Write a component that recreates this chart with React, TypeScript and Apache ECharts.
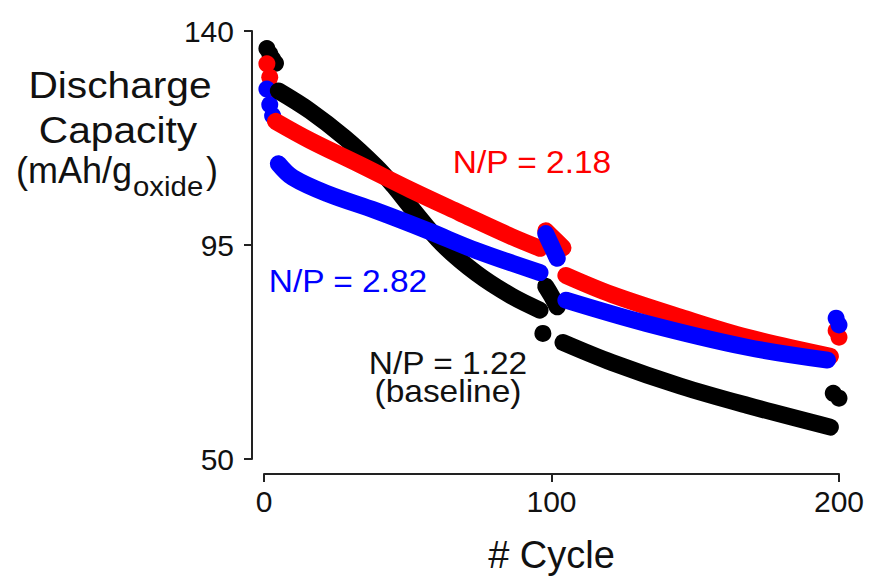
import React, { useEffect, useRef } from "react";
import * as echarts from "echarts";

// ---------- data (cycle, discharge capacity mAh/g_oxide) ----------
const xTicks = [0, 100, 200];
const yTicks = [50, 95, 140];

// N/P = 1.22 (baseline), black
const blackStart = [[1, 136.3], [2, 135.2], [3, 134.1], [4, 133.2]];
const blackEarly = [[5, 127.4], [16, 123.2], [28, 117.6], [39, 111.5], [45, 107.5], [51, 103.0], [62, 95.2], [74, 89.0], [86, 84.3], [96, 81.3]];
const blackDip = [[97, 76.4]];
const blackBump = [[98, 86.3], [100, 84.3], [102, 82.0]];
const blackLate = [[104, 74.5], [121, 70.3], [145, 65.3], [168, 61.3], [197, 56.7]];
const blackEnd = [[198, 63.8], [200, 62.8]];

// N/P = 2.18, red
const redStart = [[1, 133.1], [2, 130.3], [3, 127.6]];
const redEarly = [[4, 121.0], [16, 117.0], [33, 112.0], [51, 106.6], [68, 101.8], [86, 96.8], [96, 94.3]];
const redBump = [[98, 98.0], [101, 96.2], [104, 94.4]];
const redLate = [[105, 88.6], [121, 84.6], [145, 79.8], [168, 75.6], [197, 71.6]];
const redEnd = [[199, 77.0], [200, 75.6]];

// N/P = 2.82, blue
const blueStart = [[1, 127.8], [2, 124.5], [3, 122.2]];
const blueEarly = [[5, 112.1], [10, 109.2], [22, 105.8], [39, 102.2], [57, 98.0], [74, 93.8], [96, 89.2]];
const blueBump = [[98, 97.4], [100, 94.8], [102, 92.2]];
const blueLate = [[105, 83.4], [133, 78.5], [168, 73.5], [196, 70.8]];
const blueEnd = [[199, 79.6], [200, 78.2]];

const BLACK = "#000000";
const RED = "#ff0000";
const BLUE = "#0000ff";
const FONT = "'Liberation Sans', Arial, Helvetica, sans-serif";
const MARK = 17;

function band(data: number[][], color: string) {
  return {
    type: "line",
    data,
    smooth: 0.35,
    symbol: "none",
    showSymbol: false,
    silent: true,
    lineStyle: { width: MARK, color, cap: "round", join: "round" },
  };
}
function dots(data: number[][], color: string) {
  return {
    type: "scatter",
    data,
    symbol: "circle",
    symbolSize: MARK,
    silent: true,
    itemStyle: { color, opacity: 1 },
  };
}
function txt(x: number, y: number, text: string, size: number, color: string, sx = 1, align = "center") {
  return {
    type: "text",
    x,
    y,
    scaleX: sx,
    silent: true,
    style: {
      text,
      fill: color,
      font: `${size}px ${FONT}`,
      align,
      verticalAlign: "middle",
      textAlign: align,
      textVerticalAlign: "middle",
    },
  };
}

export default function App() {
  const ref = useRef<HTMLDivElement>(null);
  useEffect(() => {
    if (!ref.current) return;
    const chart = echarts.init(ref.current, undefined, { renderer: "svg" });
    const axisLine = { show: true, onZero: false, lineStyle: { color: "#222", width: 2 } };
    chart.setOption({
      animation: false,
      backgroundColor: "#ffffff",
      textStyle: { fontFamily: FONT },
      grid: { left: 264, right: 30, top: 31, bottom: 117, containLabel: false, outerBoundsMode: "none" },
      xAxis: {
        type: "value",
        min: xTicks[0],
        max: xTicks[xTicks.length - 1],
        interval: 100,
        offset: 15,
        axisLine,
        axisTick: { show: true, length: 8, lineStyle: { color: "#222", width: 2 } },
        axisLabel: { fontSize: 30, color: "#111", margin: 12, fontFamily: FONT },
        splitLine: { show: false },
        name: "# Cycle",
        nameLocation: "middle",
        nameGap: 62,
        nameTextStyle: { fontSize: 38, color: "#111", fontFamily: FONT },
      },
      yAxis: {
        type: "value",
        min: yTicks[0],
        max: yTicks[yTicks.length - 1],
        offset: 12,
        axisLine,
        axisTick: { show: true, length: 8, customValues: yTicks, lineStyle: { color: "#222", width: 2 } },
        axisLabel: { fontSize: 30, color: "#111", margin: 18, fontFamily: FONT, customValues: yTicks },
        splitLine: { show: false },
      },
      series: [
        dots(blackStart, BLACK),
        band(blackEarly, BLACK),
        dots(blackDip, BLACK),
        band(blackBump, BLACK),
        band(blackLate, BLACK),
        dots(blackEnd, BLACK),
        dots(redStart, RED),
        band(redEarly, RED),
        band(redBump, RED),
        band(redLate, RED),
        dots(redEnd, RED),
        dots(blueStart, BLUE),
        band(blueEarly, BLUE),
        band(blueBump, BLUE),
        band(blueLate, BLUE),
        dots(blueEnd, BLUE),
      ],
      graphic: [
        txt(120, 85, "Discharge", 37, "#111", 1.1),
        txt(118, 130, "Capacity", 37, "#111", 1.1),
        txt(132, 170, "(mAh/g", 36, "#111", 1, "right"),
        txt(133, 186, "oxide", 28, "#111", 1.05, "left"),
        txt(206, 170, ")", 36, "#111", 1, "left"),
        txt(532, 162, "N/P = 2.18", 31, RED, 1.08),
        txt(348, 281, "N/P = 2.82", 31, BLUE, 1.08),
        txt(448, 363, "N/P = 1.22", 31, "#111", 1.08),
        txt(448, 391, "(baseline)", 31, "#111", 1.08),
      ],
    });
    return () => chart.dispose();
  }, []);
  return (
    <div
      ref={ref}
      style={{ position: "fixed", left: 0, top: 0, width: 869, height: 576, background: "#fff" }}
    />
  );
}
